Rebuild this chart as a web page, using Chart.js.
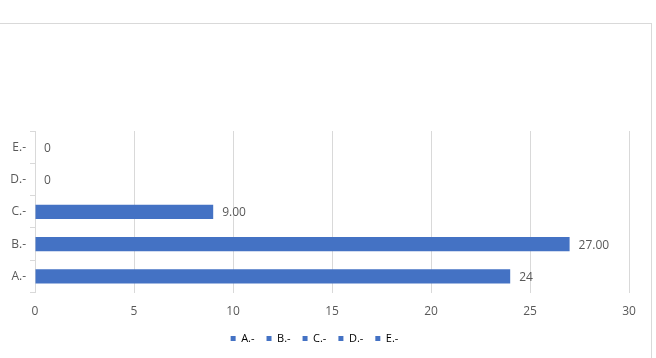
<!DOCTYPE html>
<html>
<head>
<meta charset="utf-8">
<script src="https://cdn.jsdelivr.net/npm/chart.js@4"></script>
<style>
  html, body { margin: 0; padding: 0; background: #fff; }
  #wrap { position: relative; width: 656px; height: 358px; overflow: hidden; }
  #frame { position: absolute; left: -2px; top: 23px; width: 652px; height: 340px; border: 1px solid #d9d9d9; }
  canvas { position: absolute; left: 0; top: 0; }
</style>
</head>
<body>
<div id="wrap">
  <div id="frame"></div>
  <canvas id="barChart" width="656" height="358"></canvas>
</div>
<script>
const categories = ['A.-', 'B.-', 'C.-', 'D.-', 'E.-'];
const values = [24, 27, 9, 0, 0];
const valueLabels = ['24', '27.00', '9.00', '0', '0'];
const xTicks = [0, 5, 10, 15, 20, 25, 30];

const barColor = '#4472C4';
const textColor = '#595959';
const gridColor = '#d9d9d9';
const fontFamily = '"Open Sans", "Liberation Sans", sans-serif';

// value labels at bar ends
const valueLabelPlugin = {
  id: 'valueLabels',
  afterDatasetsDraw(chart) {
    const ctx = chart.ctx;
    const meta = chart.getDatasetMeta(0);
    ctx.save();
    ctx.font = '12px ' + fontFamily;
    ctx.fillStyle = textColor;
    ctx.textAlign = 'left';
    ctx.textBaseline = 'middle';
    meta.data.forEach((bar, i) => {
      ctx.fillText(valueLabels[i], bar.x + 9, bar.y + 1);
    });
    ctx.restore();
  }
};

new Chart(document.getElementById('barChart'), {
  type: 'bar',
  data: {
    labels: categories,
    datasets: [
      {
        label: 'Serie',
        data: values,
        backgroundColor: barColor,
        categoryPercentage: 1,
        barPercentage: 0.44,
      },
    ],
  },
  options: {
    indexAxis: 'y',
    responsive: false,
    animation: false,
    layout: { padding: { top: 131, right: 27, left: 0, bottom: 4 } },
    scales: {
      x: {
        min: 0,
        max: 30,
        afterBuildTicks(scale) {
          scale.ticks = xTicks.map(v => ({ value: v }));
        },
        afterFit(scale) { scale.height -= 10; },
        grid: { color: gridColor, drawTicks: false },
        border: { display: false },
        ticks: { color: textColor, font: { family: fontFamily, size: 12 }, padding: 12 },
      },
      y: {
        reverse: true,
        afterFit(scale) { scale.width = 35; },
        grid: { offset: true, drawOnChartArea: false, color: gridColor, tickLength: 5 },
        border: { display: true, color: gridColor },
        ticks: { color: textColor, font: { family: fontFamily, size: 12 }, padding: 4 },
      },
    },
    plugins: {
      tooltip: { enabled: false },
      legend: {
        position: 'bottom',
        labels: {
          color: textColor,
          font: { family: fontFamily, size: 11 },
          boxWidth: 5,
          boxHeight: 5,
          padding: 12,
          generateLabels() {
            return categories.map((c, i) => ({
              text: c,
              fillStyle: barColor,
              strokeStyle: barColor,
              lineWidth: 0,
              index: i,
            }));
          },
        },
      },
    },
  },
  plugins: [valueLabelPlugin],
});
</script>
</body>
</html>
